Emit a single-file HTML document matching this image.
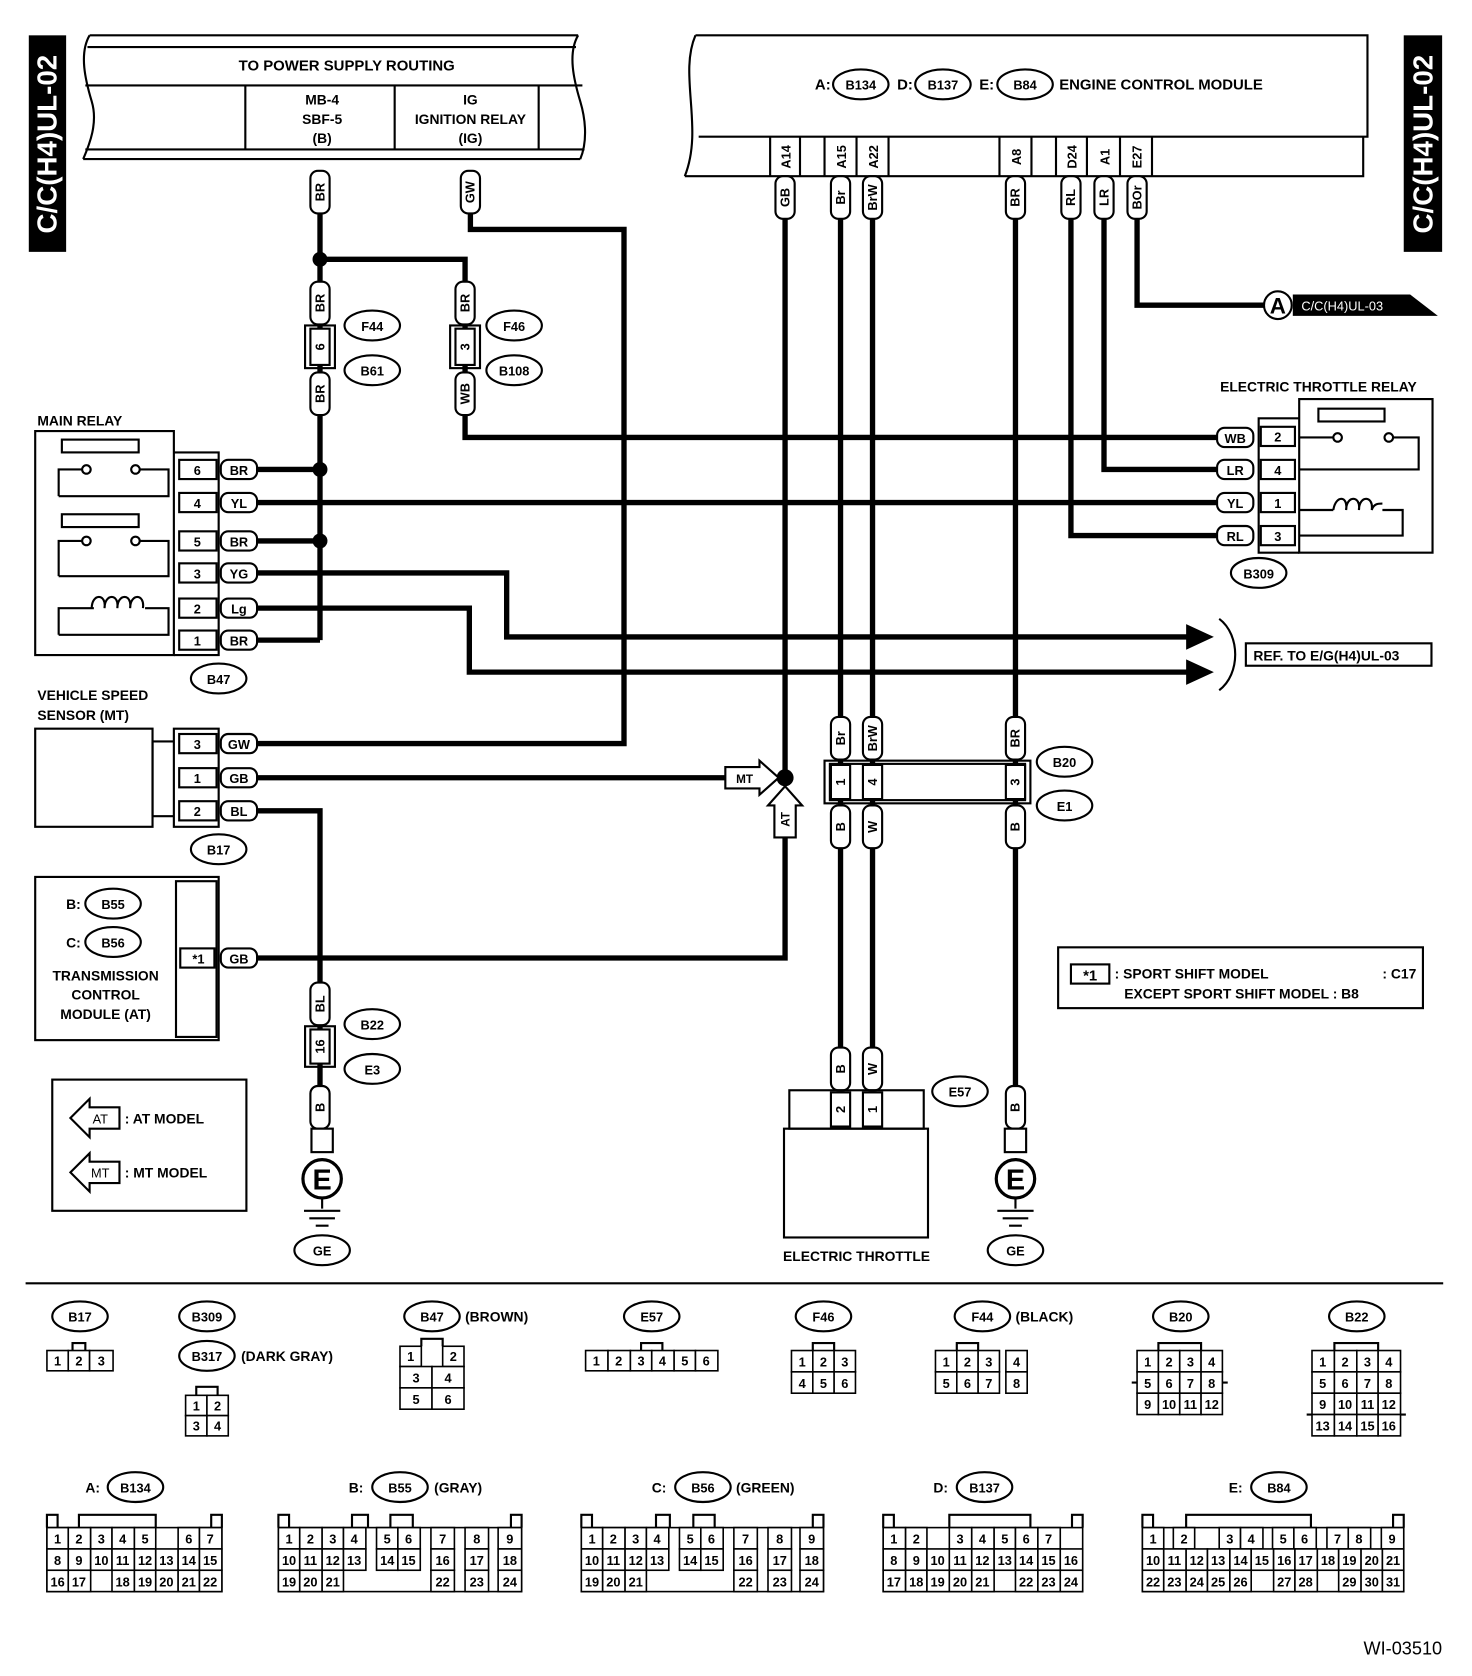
<!DOCTYPE html>
<html><head><meta charset="utf-8"><style>
html,body{margin:0;padding:0;background:#fff}
svg{display:block}
text{font-family:"Liberation Sans",sans-serif;font-weight:bold;fill:#000}
.t{font-size:13px}
.s{font-size:12px}
.c{font-size:12px;text-anchor:middle}
.n{font-size:12px;text-anchor:middle;font-weight:normal}
.w{fill:none;stroke:#000;stroke-width:5}
.l{fill:none;stroke:#000;stroke-width:2}
.b{fill:#fff;stroke:#000;stroke-width:2}
.g rect{fill:#fff;stroke:#000;stroke-width:1.5}
</style></head><body>
<svg width="1472" height="1676" viewBox="0 0 1380 1571" xmlns="http://www.w3.org/2000/svg">
<defs>
<g id="cap"><rect x="-9" y="-20" width="18" height="40" rx="7" class="b"/></g>
<g id="hcap"><rect x="-17" y="-9" width="34" height="18" rx="7" class="b"/></g>
<g id="ell"><ellipse rx="26" ry="14" class="b"/></g>
</defs>
<rect x="0" y="0" width="1380" height="1571" fill="#fff"/>

<!-- side tabs -->
<rect x="27" y="33" width="35" height="203" fill="#000"/>
<text transform="translate(53,135) rotate(-90)" text-anchor="middle" style="fill:#fff;font-size:26px">C/C(H4)UL-02</text>
<rect x="1316" y="33" width="36" height="203" fill="#000"/>
<text transform="translate(1343,135) rotate(-90)" text-anchor="middle" style="fill:#fff;font-size:26px">C/C(H4)UL-02</text>

<!-- power supply box -->
<path class="l" d="M84,33 H542 M82,44 H540 M80,80 H546 M80,140 H548 M78,149 H544"/>
<path class="l" d="M84,33 C74,50 80,75 86,95 C92,115 84,135 78,149 M542,33 C532,50 538,75 544,95 C550,115 550,135 544,149"/>
<path class="l" d="M230,80 V140 M370,80 V140 M505,80 V140"/>
<text x="325" y="66" class="t" text-anchor="middle" style="font-size:14px">TO POWER SUPPLY ROUTING</text>
<text x="302" y="98" class="t" text-anchor="middle">MB-4</text>
<text x="302" y="116" class="t" text-anchor="middle">SBF-5</text>
<text x="302" y="134" class="t" text-anchor="middle">(B)</text>
<text x="441" y="98" class="t" text-anchor="middle">IG</text>
<text x="441" y="116" class="t" text-anchor="middle">IGNITION RELAY</text>
<text x="441" y="134" class="t" text-anchor="middle">(IG)</text>

<!-- ECM -->
<path class="l" d="M652,33 H1282 V128 H655 M642,165 H1278 V128"/>
<path class="l" d="M652,33 C636,70 660,120 642,165"/>
<path class="l" d="M722,128V165 M750,128V165 M773,128V165 M803,128V165 M833,128V165 M937,128V165 M967,128V165 M990,128V165 M1019,128V165 M1050,128V165 M1080,128V165"/>
<text x="764" y="84" class="t" style="font-size:14px">A:</text>
<use href="#ell" x="807" y="79"/><text x="807" y="84" class="c">B134</text>
<text x="841" y="84" class="t" style="font-size:14px">D:</text>
<use href="#ell" x="884" y="79"/><text x="884" y="84" class="c">B137</text>
<text x="918" y="84" class="t" style="font-size:14px">E:</text>
<use href="#ell" x="961" y="79"/><text x="961" y="84" class="c">B84</text>
<text x="993" y="84" class="t" style="font-size:14px">ENGINE CONTROL MODULE</text>
<g class="s">
<text transform="translate(741,147) rotate(-90)" text-anchor="middle">A14</text>
<text transform="translate(793,147) rotate(-90)" text-anchor="middle">A15</text>
<text transform="translate(823,147) rotate(-90)" text-anchor="middle">A22</text>
<text transform="translate(957,147) rotate(-90)" text-anchor="middle">A8</text>
<text transform="translate(1009,147) rotate(-90)" text-anchor="middle">D24</text>
<text transform="translate(1040,147) rotate(-90)" text-anchor="middle">A1</text>
<text transform="translate(1070,147) rotate(-90)" text-anchor="middle">E27</text>
</g>

<!-- wires -->
<path class="w" d="M300,200 V600"/>
<path class="w" d="M300,243 H436 V410 H1140"/>
<path class="w" d="M441,200 V215 H585 V697 H240"/>
<path class="w" d="M240,440 H300 M240,507 H300 M240,600 H300"/>
<path class="w" d="M240,471 H1140"/>
<path class="w" d="M240,537 H475 V597 H1115"/>
<path class="w" d="M240,570 H440 V630 H1115"/>
<path class="w" d="M736,185 V729 M736,785 V898 H240"/>
<path class="w" d="M240,729 H680"/>
<path class="w" d="M788,185 V1020 M818,185 V1020 M952,185 V1060"/>
<path class="w" d="M1004,185 V502 H1140 M1035,185 V440 H1140 M1066,185 V286 H1185"/>
<path class="w" d="M240,760 H300 V1060"/>
<circle cx="300" cy="243" r="7"/><circle cx="300" cy="440" r="7"/><circle cx="300" cy="507" r="7"/><circle cx="736" cy="729" r="8"/>

<!-- capsules vertical -->
<g class="c">
<use href="#cap" x="300" y="180"/><text transform="translate(304,180) rotate(-90)" text-anchor="middle">BR</text>
<use href="#cap" x="441" y="180"/><text transform="translate(445,180) rotate(-90)" text-anchor="middle">GW</text>
<use href="#cap" x="300" y="284"/><text transform="translate(304,284) rotate(-90)" text-anchor="middle">BR</text>
<use href="#cap" x="300" y="369"/><text transform="translate(304,369) rotate(-90)" text-anchor="middle">BR</text>
<use href="#cap" x="436" y="284"/><text transform="translate(440,284) rotate(-90)" text-anchor="middle">BR</text>
<use href="#cap" x="436" y="369"/><text transform="translate(440,369) rotate(-90)" text-anchor="middle">WB</text>
<use href="#cap" x="736" y="185"/><text transform="translate(740,185) rotate(-90)" text-anchor="middle">GB</text>
<use href="#cap" x="788" y="185"/><text transform="translate(792,185) rotate(-90)" text-anchor="middle">Br</text>
<use href="#cap" x="818" y="185"/><text transform="translate(822,185) rotate(-90)" text-anchor="middle">BrW</text>
<use href="#cap" x="952" y="185"/><text transform="translate(956,185) rotate(-90)" text-anchor="middle">BR</text>
<use href="#cap" x="1004" y="185"/><text transform="translate(1008,185) rotate(-90)" text-anchor="middle">RL</text>
<use href="#cap" x="1035" y="185"/><text transform="translate(1039,185) rotate(-90)" text-anchor="middle">LR</text>
<use href="#cap" x="1066" y="185"/><text transform="translate(1070,185) rotate(-90)" text-anchor="middle">BOr</text>
<use href="#cap" x="788" y="692"/><text transform="translate(792,692) rotate(-90)" text-anchor="middle">Br</text>
<use href="#cap" x="818" y="692"/><text transform="translate(822,692) rotate(-90)" text-anchor="middle">BrW</text>
<use href="#cap" x="952" y="692"/><text transform="translate(956,692) rotate(-90)" text-anchor="middle">BR</text>
<use href="#cap" x="788" y="775"/><text transform="translate(792,775) rotate(-90)" text-anchor="middle">B</text>
<use href="#cap" x="818" y="775"/><text transform="translate(822,775) rotate(-90)" text-anchor="middle">W</text>
<use href="#cap" x="952" y="775"/><text transform="translate(956,775) rotate(-90)" text-anchor="middle">B</text>
<use href="#cap" x="788" y="1002"/><text transform="translate(792,1002) rotate(-90)" text-anchor="middle">B</text>
<use href="#cap" x="818" y="1002"/><text transform="translate(822,1002) rotate(-90)" text-anchor="middle">W</text>
<use href="#cap" x="952" y="1038"/><text transform="translate(956,1038) rotate(-90)" text-anchor="middle">B</text>
<use href="#cap" x="300" y="941"/><text transform="translate(304,941) rotate(-90)" text-anchor="middle">BL</text>
<use href="#cap" x="300" y="1038"/><text transform="translate(304,1038) rotate(-90)" text-anchor="middle">B</text>
</g>

<!-- inline connectors -->
<rect x="286" y="305" width="28" height="40" class="l"/><rect x="291" y="308" width="18" height="34" class="b"/>
<text transform="translate(304,325) rotate(-90)" class="c">6</text>
<rect x="422" y="305" width="28" height="40" class="l"/><rect x="427" y="308" width="18" height="34" class="b"/>
<text transform="translate(440,325) rotate(-90)" class="c">3</text>
<rect x="286" y="962" width="28" height="38" class="l"/><rect x="291" y="965" width="18" height="32" class="b"/>
<text transform="translate(304,981) rotate(-90)" class="c">16</text>
<g class="c">
<use href="#ell" x="349" y="305"/><text x="349" y="310">F44</text>
<use href="#ell" x="349" y="347"/><text x="349" y="352">B61</text>
<use href="#ell" x="482" y="305"/><text x="482" y="310">F46</text>
<use href="#ell" x="482" y="347"/><text x="482" y="352">B108</text>
<use href="#ell" x="349" y="960"/><text x="349" y="965">B22</text>
<use href="#ell" x="349" y="1002"/><text x="349" y="1007">E3</text>
<use href="#ell" x="205" y="636"/><text x="205" y="641">B47</text>
<use href="#ell" x="205" y="796"/><text x="205" y="801">B17</text>
<use href="#ell" x="1180" y="537"/><text x="1180" y="542">B309</text>
<use href="#ell" x="998" y="714"/><text x="998" y="719">B20</text>
<use href="#ell" x="998" y="755"/><text x="998" y="760">E1</text>
<use href="#ell" x="900" y="1023"/><text x="900" y="1028">E57</text>
<use href="#ell" x="302" y="1172"/><text x="302" y="1177">GE</text>
<use href="#ell" x="952" y="1172"/><text x="952" y="1177">GE</text>
</g>

<!-- B20/E1 connector -->
<rect x="773" y="713" width="193" height="40" class="l"/>
<rect x="778" y="716" width="183" height="34" class="b"/>
<rect x="779" y="717" width="18" height="32" class="b"/><rect x="809" y="717" width="18" height="32" class="b"/><rect x="943" y="717" width="18" height="32" class="b"/>
<text transform="translate(792,733) rotate(-90)" class="c">1</text>
<text transform="translate(822,733) rotate(-90)" class="c">4</text>
<text transform="translate(956,733) rotate(-90)" class="c">3</text>

<!-- Main relay -->
<text x="35" y="399" class="t">MAIN RELAY</text>
<rect x="33" y="404" width="130" height="210" class="l"/>
<path class="l" d="M163,424 H205 V614 H163"/>
<rect x="58" y="412" width="72" height="12" class="l"/>
<path class="l" d="M55,465 V440 H77 M131,440 H158 V465 H55"/>
<circle cx="81" cy="440" r="4" class="b"/><circle cx="127" cy="440" r="4" class="b"/>
<rect x="58" y="482" width="72" height="12" class="l"/>
<path class="l" d="M55,540 V507 H77 M131,507 H158 V540 H55"/>
<circle cx="81" cy="507" r="4" class="b"/><circle cx="127" cy="507" r="4" class="b"/>
<path class="l" d="M55,595 V570 H88 M136,570 H158 V595 H55"/>
<path class="l" d="M86,570 c0,-14 14,-14 12,0 c0,-14 14,-14 12,0 c0,-14 14,-14 12,0 c0,-14 14,-14 12,0"/>
<g class="n" style="font-weight:bold">
<rect x="168" y="431" width="35" height="18" class="b"/><text x="185" y="445">6</text>
<rect x="168" y="462" width="35" height="18" class="b"/><text x="185" y="476">4</text>
<rect x="168" y="498" width="35" height="18" class="b"/><text x="185" y="512">5</text>
<rect x="168" y="528" width="35" height="18" class="b"/><text x="185" y="542">3</text>
<rect x="168" y="561" width="35" height="18" class="b"/><text x="185" y="575">2</text>
<rect x="168" y="591" width="35" height="18" class="b"/><text x="185" y="605">1</text>
</g>
<g class="c">
<use href="#hcap" x="224" y="440"/><text x="224" y="445">BR</text>
<use href="#hcap" x="224" y="471"/><text x="224" y="476">YL</text>
<use href="#hcap" x="224" y="507"/><text x="224" y="512">BR</text>
<use href="#hcap" x="224" y="537"/><text x="224" y="542">YG</text>
<use href="#hcap" x="224" y="570"/><text x="224" y="575">Lg</text>
<use href="#hcap" x="224" y="600"/><text x="224" y="605">BR</text>
</g>

<!-- VSS -->
<text x="35" y="656" class="t">VEHICLE SPEED</text>
<text x="35" y="675" class="t">SENSOR (MT)</text>
<rect x="33" y="683" width="110" height="92" class="l"/>
<path class="l" d="M143,695 H163 M143,765 H163 M163,683 H205 V775 H163 Z"/>
<path class="l" d="M143,695 V765"/>
<g class="n" style="font-weight:bold">
<rect x="168" y="688" width="35" height="18" class="b"/><text x="185" y="702">3</text>
<rect x="168" y="720" width="35" height="18" class="b"/><text x="185" y="734">1</text>
<rect x="168" y="751" width="35" height="18" class="b"/><text x="185" y="765">2</text>
</g>
<g class="c">
<use href="#hcap" x="224" y="697"/><text x="224" y="702">GW</text>
<use href="#hcap" x="224" y="729"/><text x="224" y="734">GB</text>
<use href="#hcap" x="224" y="760"/><text x="224" y="765">BL</text>
</g>

<!-- TCM -->
<rect x="33" y="822" width="172" height="153" class="l"/>
<rect x="165" y="826" width="38" height="146" class="l"/>
<rect x="169" y="889" width="32" height="18" class="b"/><text x="186" y="903" class="n" style="font-weight:bold">*1</text>
<use href="#hcap" x="224" y="898"/><text x="224" y="903" class="c">GB</text>
<text x="62" y="852" class="t">B:</text><use href="#ell" x="106" y="847"/><text x="106" y="852" class="c">B55</text>
<text x="62" y="888" class="t">C:</text><use href="#ell" x="106" y="883"/><text x="106" y="888" class="c">B56</text>
<text x="99" y="919" class="t" text-anchor="middle">TRANSMISSION</text>
<text x="99" y="937" class="t" text-anchor="middle">CONTROL</text>
<text x="99" y="955" class="t" text-anchor="middle">MODULE (AT)</text>

<!-- MT / AT arrows -->
<path class="b" d="M680,719 H712 V713 L730,729 L712,745 V739 H680 Z"/>
<text x="698" y="734" class="c" style="font-size:11px">MT</text>
<path class="b" d="M726,785 V755 H720 L736,737 L752,755 H746 V785 Z"/>
<text transform="translate(740,768) rotate(-90)" class="c" style="font-size:11px">AT</text>

<!-- ETR -->
<text x="1236" y="367" class="t" text-anchor="middle">ELECTRIC THROTTLE RELAY</text>
<rect x="1218" y="374" width="125" height="144" class="l"/>
<path class="l" d="M1218,392 H1180 V518 H1218"/>
<rect x="1236" y="383" width="62" height="12" class="l"/>
<path class="l" d="M1218,410 H1250 M1306,410 H1330 V440 H1218"/>
<circle cx="1254" cy="410" r="4" class="b"/><circle cx="1302" cy="410" r="4" class="b"/>
<path class="l" d="M1218,478 H1250 M1296,478 H1315 V502 H1218"/>
<path class="l" d="M1250,478 c2,-14 14,-14 12,0 c0,-14 14,-14 12,0 c0,-14 14,-14 12,0 c2,-6 6,-6 10,-6"/>
<g class="n" style="font-weight:bold">
<rect x="1182" y="400" width="32" height="18" class="b"/><text x="1198" y="414">2</text>
<rect x="1182" y="431" width="32" height="18" class="b"/><text x="1198" y="445">4</text>
<rect x="1182" y="462" width="32" height="18" class="b"/><text x="1198" y="476">1</text>
<rect x="1182" y="493" width="32" height="18" class="b"/><text x="1198" y="507">3</text>
</g>
<g class="c">
<use href="#hcap" x="1158" y="410"/><text x="1158" y="415">WB</text>
<use href="#hcap" x="1158" y="440"/><text x="1158" y="445">LR</text>
<use href="#hcap" x="1158" y="471"/><text x="1158" y="476">YL</text>
<use href="#hcap" x="1158" y="502"/><text x="1158" y="507">RL</text>
</g>

<!-- A ref -->
<circle cx="1198" cy="286" r="13" class="b"/>
<text x="1198" y="294" text-anchor="middle" style="font-size:21px">A</text>
<path d="M1212,276 H1322 L1348,296 H1212 Z" fill="#000"/>
<text x="1220" y="291" style="fill:#fff;font-size:12px;font-weight:normal">C/C(H4)UL-03</text>

<!-- REF arrows -->
<path d="M1112,585 L1138,597 L1112,609 Z M1112,618 L1138,630 L1112,642 Z" fill="#000"/>
<path class="l" d="M1143,580 C1163,595 1163,632 1143,647"/>
<rect x="1168" y="603" width="174" height="21" class="l"/>
<text x="1175" y="619" class="t">REF. TO E/G(H4)UL-03</text>

<!-- *1 note -->
<rect x="992" y="888" width="342" height="57" class="l"/>
<rect x="1004" y="904" width="36" height="18" class="l"/>
<text x="1022" y="919" class="c" style="font-size:14px">*1</text>
<text x="1045" y="917" class="t">: SPORT SHIFT MODEL</text>
<text x="1296" y="917" class="t">: C17</text>
<text x="1054" y="936" class="t">EXCEPT SPORT SHIFT MODEL : B8</text>

<!-- legend -->
<rect x="49" y="1012" width="182" height="123" class="l"/>
<path class="b" d="M66,1048 L84,1030 V1038 H112 V1058 H84 V1066 Z"/>
<text x="94" y="1053" class="c" style="font-size:12px;font-weight:normal">AT</text>
<text x="117" y="1053" class="t">: AT MODEL</text>
<path class="b" d="M66,1099 L84,1081 V1089 H112 V1109 H84 V1117 Z"/>
<text x="94" y="1104" class="c" style="font-size:12px;font-weight:normal">MT</text>
<text x="117" y="1104" class="t">: MT MODEL</text>

<!-- E57 electric throttle -->
<rect x="735" y="1058" width="135" height="102" class="l"/>
<rect x="740" y="1022" width="126" height="36" class="l"/>
<rect x="779" y="1024" width="18" height="32" class="b"/><rect x="809" y="1024" width="18" height="32" class="b"/>
<text transform="translate(792,1040) rotate(-90)" class="c">2</text>
<text transform="translate(822,1040) rotate(-90)" class="c">1</text>
<text x="803" y="1182" class="t" text-anchor="middle">ELECTRIC THROTTLE</text>

<!-- grounds -->
<rect x="292" y="1058" width="20" height="22" class="b"/>
<circle cx="302" cy="1105" r="18" class="b" style="stroke-width:3"/>
<text x="302" y="1115" text-anchor="middle" style="font-size:27px">E</text>
<path class="l" d="M302,1123V1133 M285,1135H319 M290,1142H314 M296,1149H308"/>
<rect x="942" y="1058" width="20" height="22" class="b"/>
<circle cx="952" cy="1105" r="18" class="b" style="stroke-width:3"/>
<text x="952" y="1115" text-anchor="middle" style="font-size:27px">E</text>
<path class="l" d="M952,1123V1133 M935,1135H969 M940,1142H964 M946,1149H958"/>

<!-- divider -->
<path class="l" d="M24,1203 H1353"/>

<!-- bottom connectors -->
<g class="c">
<use href="#ell" x="75" y="1234"/><text x="75" y="1239">B17</text>
<use href="#ell" x="194" y="1234"/><text x="194" y="1239">B309</text>
<use href="#ell" x="194" y="1271"/><text x="194" y="1276">B317</text>
<use href="#ell" x="405" y="1234"/><text x="405" y="1239">B47</text>
<use href="#ell" x="611" y="1234"/><text x="611" y="1239">E57</text>
<use href="#ell" x="772" y="1234"/><text x="772" y="1239">F46</text>
<use href="#ell" x="921" y="1234"/><text x="921" y="1239">F44</text>
<use href="#ell" x="1107" y="1234"/><text x="1107" y="1239">B20</text>
<use href="#ell" x="1272" y="1234"/><text x="1272" y="1239">B22</text>
<use href="#ell" x="127" y="1394"/><text x="127" y="1399">B134</text>
<use href="#ell" x="375" y="1394"/><text x="375" y="1399">B55</text>
<use href="#ell" x="659" y="1394"/><text x="659" y="1399">B56</text>
<use href="#ell" x="923" y="1394"/><text x="923" y="1399">B137</text>
<use href="#ell" x="1199" y="1394"/><text x="1199" y="1399">B84</text>
</g>
<text x="226" y="1276" class="t">(DARK GRAY)</text>
<text x="436" y="1239" class="t">(BROWN)</text>
<text x="952" y="1239" class="t">(BLACK)</text>
<text x="80" y="1399" class="t">A:</text>
<text x="327" y="1399" class="t">B:</text>
<text x="407" y="1399" class="t">(GRAY)</text>
<text x="611" y="1399" class="t">C:</text>
<text x="690" y="1399" class="t">(GREEN)</text>
<text x="875" y="1399" class="t">D:</text>
<text x="1152" y="1399" class="t">E:</text>

<g class="g n">
<rect x="44" y="1266" width="20" height="19"/><text x="54" y="1280">1</text>
<rect x="64" y="1266" width="20" height="19"/><text x="74" y="1280">2</text>
<rect x="84" y="1266" width="22" height="19"/><text x="95" y="1280">3</text>
<rect x="174" y="1308" width="20" height="19"/><text x="184" y="1322">1</text>
<rect x="194" y="1308" width="20" height="19"/><text x="204" y="1322">2</text>
<rect x="174" y="1327" width="20" height="19"/><text x="184" y="1341">3</text>
<rect x="194" y="1327" width="20" height="19"/><text x="204" y="1341">4</text>
<rect x="375" y="1262" width="20" height="19"/><text x="385" y="1276">1</text>
<rect x="415" y="1262" width="20" height="19"/><text x="425" y="1276">2</text>
<rect x="375" y="1281" width="30" height="20"/><text x="390" y="1296">3</text>
<rect x="405" y="1281" width="30" height="20"/><text x="420" y="1296">4</text>
<rect x="375" y="1301" width="30" height="20"/><text x="390" y="1316">5</text>
<rect x="405" y="1301" width="30" height="20"/><text x="420" y="1316">6</text>
<rect x="549" y="1266" width="21" height="19"/><text x="559" y="1280">1</text>
<rect x="570" y="1266" width="21" height="19"/><text x="580" y="1280">2</text>
<rect x="591" y="1266" width="20" height="19"/><text x="601" y="1280">3</text>
<rect x="611" y="1266" width="21" height="19"/><text x="621" y="1280">4</text>
<rect x="632" y="1266" width="20" height="19"/><text x="642" y="1280">5</text>
<rect x="652" y="1266" width="21" height="19"/><text x="662" y="1280">6</text>
<rect x="742" y="1266" width="20" height="20"/><text x="752" y="1281">1</text>
<rect x="762" y="1266" width="20" height="20"/><text x="772" y="1281">2</text>
<rect x="782" y="1266" width="20" height="20"/><text x="792" y="1281">3</text>
<rect x="742" y="1286" width="20" height="20"/><text x="752" y="1301">4</text>
<rect x="762" y="1286" width="20" height="20"/><text x="772" y="1301">5</text>
<rect x="782" y="1286" width="20" height="20"/><text x="792" y="1301">6</text>
<rect x="877" y="1266" width="20" height="20"/><text x="887" y="1281">1</text>
<rect x="897" y="1266" width="20" height="20"/><text x="907" y="1281">2</text>
<rect x="917" y="1266" width="20" height="20"/><text x="927" y="1281">3</text>
<rect x="943" y="1266" width="20" height="20"/><text x="953" y="1281">4</text>
<rect x="877" y="1286" width="20" height="20"/><text x="887" y="1301">5</text>
<rect x="897" y="1286" width="20" height="20"/><text x="907" y="1301">6</text>
<rect x="917" y="1286" width="20" height="20"/><text x="927" y="1301">7</text>
<rect x="943" y="1286" width="20" height="20"/><text x="953" y="1301">8</text>
<rect x="1066" y="1266" width="20" height="20"/><text x="1076" y="1281">1</text>
<rect x="1086" y="1266" width="20" height="20"/><text x="1096" y="1281">2</text>
<rect x="1106" y="1266" width="20" height="20"/><text x="1116" y="1281">3</text>
<rect x="1126" y="1266" width="20" height="20"/><text x="1136" y="1281">4</text>
<rect x="1066" y="1286" width="20" height="20"/><text x="1076" y="1301">5</text>
<rect x="1086" y="1286" width="20" height="20"/><text x="1096" y="1301">6</text>
<rect x="1106" y="1286" width="20" height="20"/><text x="1116" y="1301">7</text>
<rect x="1126" y="1286" width="20" height="20"/><text x="1136" y="1301">8</text>
<rect x="1066" y="1306" width="20" height="20"/><text x="1076" y="1321">9</text>
<rect x="1086" y="1306" width="20" height="20"/><text x="1096" y="1321">10</text>
<rect x="1106" y="1306" width="20" height="20"/><text x="1116" y="1321">11</text>
<rect x="1126" y="1306" width="20" height="20"/><text x="1136" y="1321">12</text>
<rect x="1230" y="1266" width="21" height="20"/><text x="1240" y="1281">1</text>
<rect x="1251" y="1266" width="21" height="20"/><text x="1261" y="1281">2</text>
<rect x="1272" y="1266" width="20" height="20"/><text x="1282" y="1281">3</text>
<rect x="1292" y="1266" width="21" height="20"/><text x="1302" y="1281">4</text>
<rect x="1230" y="1286" width="21" height="20"/><text x="1240" y="1301">5</text>
<rect x="1251" y="1286" width="21" height="20"/><text x="1261" y="1301">6</text>
<rect x="1272" y="1286" width="20" height="20"/><text x="1282" y="1301">7</text>
<rect x="1292" y="1286" width="21" height="20"/><text x="1302" y="1301">8</text>
<rect x="1230" y="1306" width="21" height="20"/><text x="1240" y="1321">9</text>
<rect x="1251" y="1306" width="21" height="20"/><text x="1261" y="1321">10</text>
<rect x="1272" y="1306" width="20" height="20"/><text x="1282" y="1321">11</text>
<rect x="1292" y="1306" width="21" height="20"/><text x="1302" y="1321">12</text>
<rect x="1230" y="1326" width="21" height="20"/><text x="1240" y="1341">13</text>
<rect x="1251" y="1326" width="21" height="20"/><text x="1261" y="1341">14</text>
<rect x="1272" y="1326" width="20" height="20"/><text x="1282" y="1341">15</text>
<rect x="1292" y="1326" width="21" height="20"/><text x="1302" y="1341">16</text>

<rect x="44" y="1432" width="164" height="60"/>
<rect x="44" y="1432" width="20" height="20"/><text x="54" y="1447">1</text>
<rect x="64" y="1432" width="21" height="20"/><text x="74" y="1447">2</text>
<rect x="85" y="1432" width="20" height="20"/><text x="95" y="1447">3</text>
<rect x="105" y="1432" width="21" height="20"/><text x="115" y="1447">4</text>
<rect x="126" y="1432" width="20" height="20"/><text x="136" y="1447">5</text>
<rect x="167" y="1432" width="20" height="20"/><text x="177" y="1447">6</text>
<rect x="187" y="1432" width="21" height="20"/><text x="197" y="1447">7</text>
<rect x="44" y="1452" width="20" height="20"/><text x="54" y="1467">8</text>
<rect x="64" y="1452" width="21" height="20"/><text x="74" y="1467">9</text>
<rect x="85" y="1452" width="20" height="20"/><text x="95" y="1467">10</text>
<rect x="105" y="1452" width="21" height="20"/><text x="115" y="1467">11</text>
<rect x="126" y="1452" width="20" height="20"/><text x="136" y="1467">12</text>
<rect x="146" y="1452" width="21" height="20"/><text x="156" y="1467">13</text>
<rect x="167" y="1452" width="20" height="20"/><text x="177" y="1467">14</text>
<rect x="187" y="1452" width="21" height="20"/><text x="197" y="1467">15</text>
<rect x="44" y="1472" width="20" height="20"/><text x="54" y="1487">16</text>
<rect x="64" y="1472" width="21" height="20"/><text x="74" y="1487">17</text>
<rect x="105" y="1472" width="21" height="20"/><text x="115" y="1487">18</text>
<rect x="126" y="1472" width="20" height="20"/><text x="136" y="1487">19</text>
<rect x="146" y="1472" width="21" height="20"/><text x="156" y="1487">20</text>
<rect x="167" y="1472" width="20" height="20"/><text x="177" y="1487">21</text>
<rect x="187" y="1472" width="21" height="20"/><text x="197" y="1487">22</text>

<rect x="261" y="1432" width="228" height="60"/>
<rect x="261" y="1432" width="20" height="20"/><text x="271" y="1447">1</text>
<rect x="281" y="1432" width="21" height="20"/><text x="291" y="1447">2</text>
<rect x="302" y="1432" width="20" height="20"/><text x="312" y="1447">3</text>
<rect x="322" y="1432" width="21" height="20"/><text x="332" y="1447">4</text>
<rect x="353" y="1432" width="20" height="20"/><text x="363" y="1447">5</text>
<rect x="373" y="1432" width="21" height="20"/><text x="383" y="1447">6</text>
<rect x="404" y="1432" width="22" height="20"/><text x="415" y="1447">7</text>
<rect x="436" y="1432" width="22" height="20"/><text x="447" y="1447">8</text>
<rect x="467" y="1432" width="22" height="20"/><text x="478" y="1447">9</text>
<rect x="261" y="1452" width="20" height="20"/><text x="271" y="1467">10</text>
<rect x="281" y="1452" width="21" height="20"/><text x="291" y="1467">11</text>
<rect x="302" y="1452" width="20" height="20"/><text x="312" y="1467">12</text>
<rect x="322" y="1452" width="21" height="20"/><text x="332" y="1467">13</text>
<rect x="353" y="1452" width="20" height="20"/><text x="363" y="1467">14</text>
<rect x="373" y="1452" width="21" height="20"/><text x="383" y="1467">15</text>
<rect x="404" y="1452" width="22" height="20"/><text x="415" y="1467">16</text>
<rect x="436" y="1452" width="22" height="20"/><text x="447" y="1467">17</text>
<rect x="467" y="1452" width="22" height="20"/><text x="478" y="1467">18</text>
<rect x="261" y="1472" width="20" height="20"/><text x="271" y="1487">19</text>
<rect x="281" y="1472" width="21" height="20"/><text x="291" y="1487">20</text>
<rect x="302" y="1472" width="20" height="20"/><text x="312" y="1487">21</text>
<rect x="404" y="1472" width="22" height="20"/><text x="415" y="1487">22</text>
<rect x="436" y="1472" width="22" height="20"/><text x="447" y="1487">23</text>
<rect x="467" y="1472" width="22" height="20"/><text x="478" y="1487">24</text>

<rect x="545" y="1432" width="227" height="60"/>
<rect x="545" y="1432" width="20" height="20"/><text x="555" y="1447">1</text>
<rect x="565" y="1432" width="21" height="20"/><text x="575" y="1447">2</text>
<rect x="586" y="1432" width="20" height="20"/><text x="596" y="1447">3</text>
<rect x="606" y="1432" width="21" height="20"/><text x="616" y="1447">4</text>
<rect x="637" y="1432" width="20" height="20"/><text x="647" y="1447">5</text>
<rect x="657" y="1432" width="21" height="20"/><text x="667" y="1447">6</text>
<rect x="688" y="1432" width="22" height="20"/><text x="699" y="1447">7</text>
<rect x="720" y="1432" width="22" height="20"/><text x="731" y="1447">8</text>
<rect x="750" y="1432" width="22" height="20"/><text x="761" y="1447">9</text>
<rect x="545" y="1452" width="20" height="20"/><text x="555" y="1467">10</text>
<rect x="565" y="1452" width="21" height="20"/><text x="575" y="1467">11</text>
<rect x="586" y="1452" width="20" height="20"/><text x="596" y="1467">12</text>
<rect x="606" y="1452" width="21" height="20"/><text x="616" y="1467">13</text>
<rect x="637" y="1452" width="20" height="20"/><text x="647" y="1467">14</text>
<rect x="657" y="1452" width="21" height="20"/><text x="667" y="1467">15</text>
<rect x="688" y="1452" width="22" height="20"/><text x="699" y="1467">16</text>
<rect x="720" y="1452" width="22" height="20"/><text x="731" y="1467">17</text>
<rect x="750" y="1452" width="22" height="20"/><text x="761" y="1467">18</text>
<rect x="545" y="1472" width="20" height="20"/><text x="555" y="1487">19</text>
<rect x="565" y="1472" width="21" height="20"/><text x="575" y="1487">20</text>
<rect x="586" y="1472" width="20" height="20"/><text x="596" y="1487">21</text>
<rect x="688" y="1472" width="22" height="20"/><text x="699" y="1487">22</text>
<rect x="720" y="1472" width="22" height="20"/><text x="731" y="1487">23</text>
<rect x="750" y="1472" width="22" height="20"/><text x="761" y="1487">24</text>

<rect x="828" y="1432" width="187" height="60"/>
<rect x="828" y="1432" width="21" height="20"/><text x="838" y="1447">1</text>
<rect x="849" y="1432" width="20" height="20"/><text x="859" y="1447">2</text>
<rect x="890" y="1432" width="21" height="20"/><text x="900" y="1447">3</text>
<rect x="911" y="1432" width="21" height="20"/><text x="921" y="1447">4</text>
<rect x="932" y="1432" width="20" height="20"/><text x="942" y="1447">5</text>
<rect x="952" y="1432" width="21" height="20"/><text x="962" y="1447">6</text>
<rect x="973" y="1432" width="21" height="20"/><text x="983" y="1447">7</text>
<rect x="828" y="1452" width="21" height="20"/><text x="838" y="1467">8</text>
<rect x="849" y="1452" width="20" height="20"/><text x="859" y="1467">9</text>
<rect x="869" y="1452" width="21" height="20"/><text x="879" y="1467">10</text>
<rect x="890" y="1452" width="21" height="20"/><text x="900" y="1467">11</text>
<rect x="911" y="1452" width="21" height="20"/><text x="921" y="1467">12</text>
<rect x="932" y="1452" width="20" height="20"/><text x="942" y="1467">13</text>
<rect x="952" y="1452" width="21" height="20"/><text x="962" y="1467">14</text>
<rect x="973" y="1452" width="21" height="20"/><text x="983" y="1467">15</text>
<rect x="994" y="1452" width="21" height="20"/><text x="1004" y="1467">16</text>
<rect x="828" y="1472" width="21" height="20"/><text x="838" y="1487">17</text>
<rect x="849" y="1472" width="20" height="20"/><text x="859" y="1487">18</text>
<rect x="869" y="1472" width="21" height="20"/><text x="879" y="1487">19</text>
<rect x="890" y="1472" width="21" height="20"/><text x="900" y="1487">20</text>
<rect x="911" y="1472" width="21" height="20"/><text x="921" y="1487">21</text>
<rect x="952" y="1472" width="21" height="20"/><text x="962" y="1487">22</text>
<rect x="973" y="1472" width="21" height="20"/><text x="983" y="1487">23</text>
<rect x="994" y="1472" width="21" height="20"/><text x="1004" y="1487">24</text>

<rect x="1071" y="1432" width="245" height="60"/>
<rect x="1071" y="1432" width="20" height="20"/><text x="1081" y="1447">1</text>
<rect x="1100" y="1432" width="20" height="20"/><text x="1110" y="1447">2</text>
<rect x="1143" y="1432" width="20" height="20"/><text x="1153" y="1447">3</text>
<rect x="1163" y="1432" width="21" height="20"/><text x="1173" y="1447">4</text>
<rect x="1193" y="1432" width="20" height="20"/><text x="1203" y="1447">5</text>
<rect x="1213" y="1432" width="21" height="20"/><text x="1223" y="1447">6</text>
<rect x="1244" y="1432" width="20" height="20"/><text x="1254" y="1447">7</text>
<rect x="1264" y="1432" width="21" height="20"/><text x="1274" y="1447">8</text>
<rect x="1295" y="1432" width="21" height="20"/><text x="1305" y="1447">9</text>
<rect x="1071" y="1452" width="20" height="20"/><text x="1081" y="1467">10</text>
<rect x="1091" y="1452" width="21" height="20"/><text x="1101" y="1467">11</text>
<rect x="1112" y="1452" width="20" height="20"/><text x="1122" y="1467">12</text>
<rect x="1132" y="1452" width="21" height="20"/><text x="1142" y="1467">13</text>
<rect x="1153" y="1452" width="20" height="20"/><text x="1163" y="1467">14</text>
<rect x="1173" y="1452" width="21" height="20"/><text x="1183" y="1467">15</text>
<rect x="1194" y="1452" width="20" height="20"/><text x="1204" y="1467">16</text>
<rect x="1214" y="1452" width="21" height="20"/><text x="1224" y="1467">17</text>
<rect x="1235" y="1452" width="20" height="20"/><text x="1245" y="1467">18</text>
<rect x="1255" y="1452" width="21" height="20"/><text x="1265" y="1467">19</text>
<rect x="1276" y="1452" width="20" height="20"/><text x="1286" y="1467">20</text>
<rect x="1296" y="1452" width="20" height="20"/><text x="1306" y="1467">21</text>
<rect x="1071" y="1472" width="20" height="20"/><text x="1081" y="1487">22</text>
<rect x="1091" y="1472" width="21" height="20"/><text x="1101" y="1487">23</text>
<rect x="1112" y="1472" width="20" height="20"/><text x="1122" y="1487">24</text>
<rect x="1132" y="1472" width="21" height="20"/><text x="1142" y="1487">25</text>
<rect x="1153" y="1472" width="20" height="20"/><text x="1163" y="1487">26</text>
<rect x="1194" y="1472" width="20" height="20"/><text x="1204" y="1487">27</text>
<rect x="1214" y="1472" width="21" height="20"/><text x="1224" y="1487">28</text>
<rect x="1255" y="1472" width="21" height="20"/><text x="1265" y="1487">29</text>
<rect x="1276" y="1472" width="20" height="20"/><text x="1286" y="1487">30</text>
<rect x="1296" y="1472" width="20" height="20"/><text x="1306" y="1487">31</text>
</g>
<path class="l" d="M68,1266V1259H80V1266 M184,1308V1300H204V1308 M395,1262V1255H415V1262 M601,1266V1259H621V1266 M762,1266V1259H782V1266 M897,1266V1259H917V1266 M1086,1266V1259H1126V1266 M1061,1296H1066 M1146,1296H1151 M1251,1266V1259H1292V1266 M1225,1326H1230 M1313,1326H1318"/>
<path class="l" d="M44,1432V1420H54V1432 M198,1432V1420H208V1432 M74,1432V1420H146V1432 M261,1432V1420H271V1432 M479,1432V1420H489V1432 M330,1432V1420H345V1432 M366,1432V1420H387V1432 M545,1432V1420H555V1432 M762,1432V1420H772V1432 M615,1432V1420H628V1432 M650,1432V1420H670V1432 M828,1432V1420H838V1432 M1005,1432V1420H1015V1432 M890,1432V1420H966V1432 M1071,1432V1420H1081V1432 M1306,1432V1420H1316V1432 M1112,1432V1420H1229V1432"/>

<text x="1352" y="1551" text-anchor="end" style="font-size:17px;font-weight:normal">WI-03510</text>
</svg>
</body></html>
